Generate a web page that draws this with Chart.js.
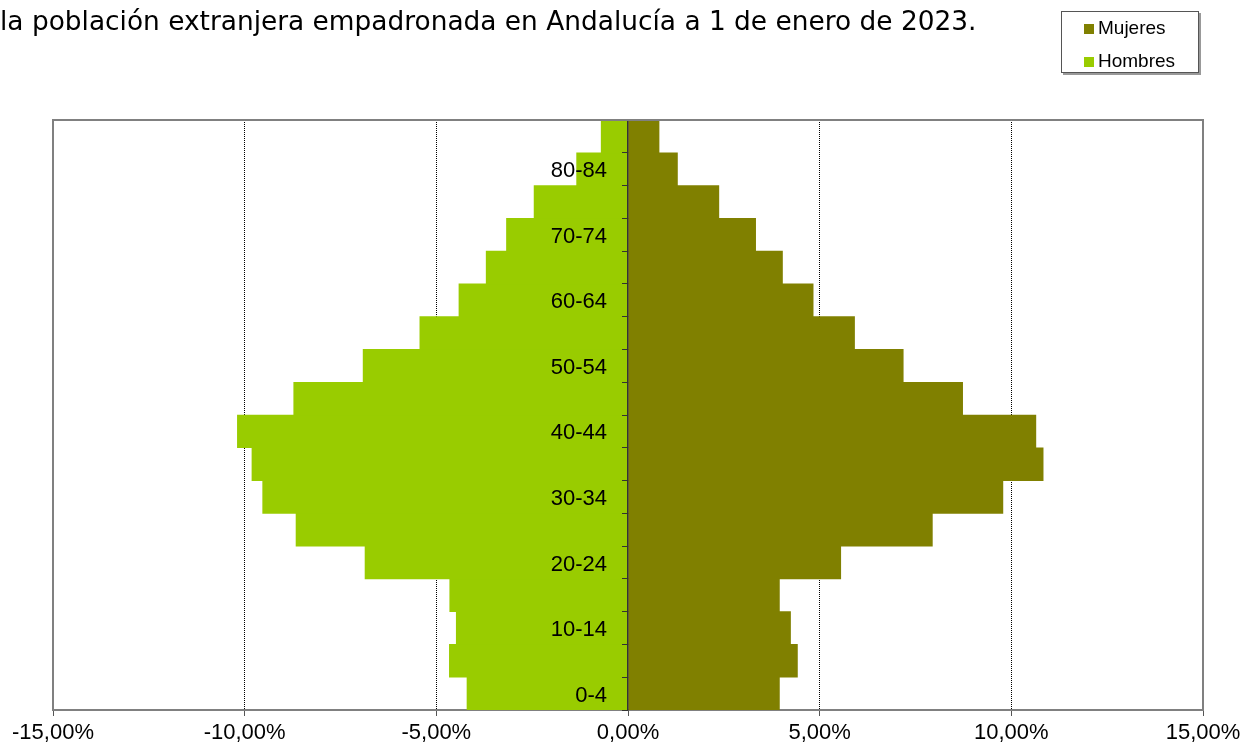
<!DOCTYPE html>
<html>
<head>
<meta charset="utf-8">
<script src="https://cdn.jsdelivr.net/npm/chart.js@4/dist/chart.umd.min.js"></script>
<style>
    body { margin: 0; background: #fff; }
    #wrap { position: relative; width: 1244px; height: 747px; }
    #titulo {
        position: absolute; left: 0; top: 8px; white-space: nowrap;
        font-family: 'DejaVu Sans', Verdana, sans-serif; font-size: 26.4px; line-height: 26px; color: #000;
    }
    #leyenda {
        position: absolute; left: 1061px; top: 11px; width: 136px; height: 60px;
        border: 1px solid #555; background: #fff; box-shadow: 2px 2px 0 #999;
        font-family: 'Liberation Sans', Arial, sans-serif; font-size: 19px; color: #000;
    }
    #leyenda div { position: absolute; left: 22px; height: 22px; line-height: 22px; }
    #leyenda span { display: inline-block; width: 10px; height: 10px; margin-right: 4px; vertical-align: 0px; }
</style>
</head>
<body>
<div id="wrap">
    <canvas id="piramide" width="1244" height="747"></canvas>
    <div id="titulo">la población extranjera empadronada en Andalucía a 1 de enero de 2023.</div>
    <div id="leyenda"></div>
</div>
<script>
// grupos de edad, de abajo (0-4) hacia arriba (85+)
const ageGroups = ['0-4', '5-9', '10-14', '15-19', '20-24', '25-29', '30-34', '35-39', '40-44',
    '45-49', '50-54', '55-59', '60-64', '65-69', '70-74', '75-79', '80-84', '85+'];
// porcentaje sobre el total de cada sexo
const mujeres = [3.95, 4.42, 4.24, 3.95, 5.55, 7.94, 9.78, 10.83, 10.64,
    8.73, 7.18, 5.91, 4.83, 4.03, 3.33, 2.37, 1.29, 0.81];
const hombres = [-4.20, -4.66, -4.48, -4.65, -6.86, -8.66, -9.53, -9.81, -10.19,
    -8.72, -6.91, -5.43, -4.41, -3.70, -3.17, -2.45, -1.34, -0.70];
const xTicks = [-15, -10, -5, 0, 5, 10, 15];

const colorMujeres = '#808000';
const colorHombres = '#99cc00';

const fmtPct = v => v.toFixed(2).replace('.', ',') + '%';

// marco gris alrededor del area de dibujo
const marco = {
    id: 'marco',
    afterDraw(chart) {
        const { ctx, chartArea: a } = chart;
        ctx.save();
        ctx.strokeStyle = '#808080';
        ctx.lineWidth = 2;
        ctx.beginPath();
        ctx.moveTo(a.left, a.bottom);
        ctx.lineTo(a.left, a.top);
        ctx.lineTo(a.right, a.top);
        ctx.lineTo(a.right, a.bottom);
        ctx.stroke();
        ctx.restore();
    }
};

const piramide = new Chart(document.getElementById('piramide'), {
    type: 'bar',
    data: {
        labels: ageGroups,
        datasets: [{
            label: 'Mujeres',
            data: mujeres,
            backgroundColor: colorMujeres,
            barPercentage: 1,
            categoryPercentage: 1
        }, {
            label: 'Hombres',
            data: hombres,
            backgroundColor: colorHombres,
            barPercentage: 1,
            categoryPercentage: 1
        }]
    },
    options: {
        indexAxis: 'y',
        responsive: false,
        animation: false,
        layout: { padding: { left: 53, right: 41, top: 120, bottom: 0 } },
        plugins: {
            legend: { display: false },
            title: { display: false },
            tooltip: { enabled: false }
        },
        scales: {
            x: {
                stacked: true,
                min: -15,
                max: 15,
                afterBuildTicks: s => { s.ticks = xTicks.map(v => ({ value: v })); },
                afterFit: s => {
                    s.height = 37;
                    s.paddingLeft = 0;
                    s.paddingRight = 0;
                },
                ticks: {
                    color: '#000',
                    padding: 6,
                    maxRotation: 0,
                    font: { family: 'Liberation Sans', size: 22, lineHeight: 1 },
                    callback: v => fmtPct(v)
                },
                grid: {
                    color: c => (c.tick && Math.abs(c.tick.value) % 15 === 0) ? 'rgba(0,0,0,0)' : '#000',
                    lineWidth: 1,
                    tickColor: '#555',
                    tickLength: 6
                },
                border: { color: '#808080', width: 2, dash: [1, 1] }
            },
            y: {
                stacked: true,
                reverse: true,
                position: 'center',
                afterFit: s => { s.width = 0; },
                ticks: {
                    z: 1,
                    color: '#000',
                    padding: 16,
                    labelOffset: 2,
                    autoSkip: false,
                    font: { family: 'Liberation Sans', size: 22 },
                    callback: v => v % 2 === 0 ? ageGroups[v] : ''
                },
                grid: {
                    z: 1,
                    drawOnChartArea: false,
                    drawTicks: true,
                    tickLength: 5,
                    tickColor: '#333'
                },
                border: { z: 1, color: '#333', width: 1.5 }
            }
        }
    },
    plugins: [marco]
});

// leyenda en html, a partir de los datasets
const leyenda = document.getElementById('leyenda');
piramide.data.datasets.forEach((ds, i) => {
    const item = document.createElement('div');
    item.style.top = (5 + i * 33) + 'px';
    item.innerHTML = '<span style="background:' + ds.backgroundColor + '"></span>' + ds.label;
    leyenda.appendChild(item);
});
</script>
</body>
</html>
